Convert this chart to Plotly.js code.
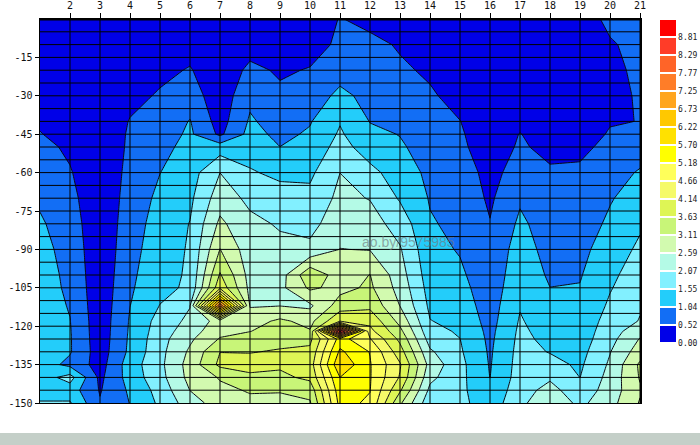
<!DOCTYPE html>
<html>
<head>
<meta charset="utf-8">
<script src="https://cdn.plot.ly/plotly-3.0.1.min.js"></script>
<style>html,body{margin:0;padding:0;background:#fff}#chart{width:700px;height:445px}</style>
</head>
<body>
<div id="chart"></div>
<script>
const depths = [0,-10,-20,-30,-40,-45,-50,-60,-70,-80,-90,-100,-105,-112,-118,-122,-125,-130,-135,-140,-145,-150];
const columns = [1,2,3,4,5,6,7,8,9,10,11,12,13,14,15,16,17,18,19,20,21];
const col01 = [.05,.1,.15,.25,.45,.54,.68,.82,.96,1.1,1.2,1.25,1.25,1.3,1.3,1.3,1.3,1.3,1.3,1.3,1.3,1.6];
const col02 = [.05,.08,.1,.15,.25,.33,.42,.56,.68,.78,.85,.92,.95,1.0,1.05,1.07,1.08,1.08,.9,1.75,1.3,1.6];
const col03 = [.03,.04,.05,.05,.05,.055,.06,.08,.1,.12,.14,.15,.16,.18,.2,.21,.22,.25,.3,.4,.48,.56];
const col04 = [.05,.08,.15,.35,.55,.6,.62,.68,.74,.8,.85,.93,.97,1.03,1.08,1.1,1.12,1.15,1.3,1.25,1.12,1.05];
const col05 = [.1,.2,.38,.58,.72,.8,.88,1.03,1.15,1.25,1.33,1.38,1.4,1.57,1.75,1.82,1.88,1.92,1.95,1.9,1.75,1.65];
const col06 = [.12,.3,.56,.78,1.06,1.12,1.2,1.32,1.45,1.57,1.6,1.62,1.65,2.05,2.2,2.35,2.5,2.68,2.8,2.75,2.6,2.35];
const col07 = [.05,.08,.12,.2,.3,.42,1.3,2.07,2.35,2.7,3.12,3.68,4.0,7.7,2.8,2.95,3.15,3.62,3.75,3.15,3.0,2.85];
const col08 = [.05,.28,.65,.92,1.1,1.2,1.35,1.6,1.95,2.2,2.3,2.4,2.45,2.55,2.9,3.1,3.3,3.6,3.85,3.5,3.15,3.0];
const col09 = [.05,.15,.45,.62,.82,.92,1.04,1.45,1.75,2.02,2.2,2.35,2.45,2.58,3.2,3.3,3.45,3.68,3.72,3.5,3.15,2.95];
const col10 = [.1,.3,.55,.78,1.0,1.1,1.2,1.45,1.7,1.9,2.2,3.5,3.2,2.5,2.95,3.15,3.5,3.75,3.9,3.75,3.3,3.05];
const col11 = [.55,.62,.85,1.15,1.52,1.62,1.75,2.07,2.2,2.4,2.6,2.85,2.95,3.35,4.12,9.0,5.4,5.8,6.15,5.7,5.5,5.35];
const col12 = [.32,.7,.78,.9,1.02,1.15,1.3,1.7,2.05,2.3,2.57,3.12,3.2,3.5,4.0,4.3,4.7,5.16,5.22,5.22,5.2,5.1];
const col13 = [.22,.45,.62,.78,.95,1.02,1.1,1.3,1.5,1.85,2.12,2.3,2.4,2.58,2.95,3.25,3.5,3.85,4.2,4.1,3.7,3.2];
const col14 = [.1,.2,.42,.6,.72,.77,.82,.92,1.0,1.08,1.18,1.28,1.35,1.45,1.57,1.7,1.85,2.15,2.4,2.2,1.95,1.7];
const col15 = [.05,.1,.15,.3,.53,.6,.65,.78,.85,.92,1.0,1.12,1.2,1.3,1.42,1.5,1.56,1.62,1.7,1.7,1.68,1.7];
const col16 = [.03,.04,.05,.06,.08,.1,.17,.35,.44,.54,.68,.72,.74,.8,.85,.9,.93,.97,1.0,1.03,1.15,1.25];
const col17 = [.03,.04,.05,.1,.35,.54,.6,.75,.97,1.13,1.25,1.35,1.42,1.52,1.6,1.65,1.68,1.72,1.75,1.78,1.85,1.95];
const col18 = [.03,.04,.05,.07,.12,.2,.35,.6,.72,.8,.87,.97,1.04,1.15,1.28,1.36,1.42,1.53,1.72,2.0,2.25,2.45];
const col19 = [.03,.04,.05,.07,.12,.2,.38,.62,.72,.8,.9,1.0,1.06,1.15,1.22,1.27,1.3,1.38,1.47,1.55,1.75,1.95];
const col20 = [.75,.42,.3,.35,.47,.58,.68,.85,1.0,1.12,1.28,1.45,1.52,1.63,1.75,1.83,1.9,2.05,2.15,2.25,2.3,2.4];
const col21 = [.85,.8,.7,.58,.53,.68,.82,1.08,1.25,1.48,1.65,1.8,1.88,2.02,2.1,2.4,2.62,2.85,3.2,3.15,3.05,3.15];
const allCols = [col01,col02,col03,col04,col05,col06,col07,col08,col09,col10,col11,col12,col13,col14,col15,col16,col17,col18,col19,col20,col21];
const z = depths.map((_, r) => allCols.map(c => c[r]));

const levelLabels = ['0.00','0.52','1.04','1.55','2.07','2.59','3.11','3.63','4.14','4.66','5.18','5.70','6.22','6.73','7.25','7.77','8.29','8.81'];
const levelStep = 0.5182;
const levelValues = levelLabels.map((_, i) => i * levelStep);
const bandColors = ['rgb(0,0,232)','rgb(18,110,245)','rgb(35,205,250)','rgb(130,240,255)','rgb(180,250,230)','rgb(210,250,175)','rgb(200,245,120)','rgb(222,245,85)','rgb(245,250,105)','rgb(255,255,90)','rgb(255,255,0)','rgb(255,225,0)','rgb(255,200,0)','rgb(255,165,30)','rgb(255,125,40)','rgb(255,100,40)','rgb(255,60,40)','rgb(255,0,0)'];
const toScale = list => list.map((c, i) => [i / (list.length - 1), c]);

const xTickVals = columns.slice(1);
const yTickVals = [-15,-30,-45,-60,-75,-90,-105,-120,-135,-150];
const yGridVals = [-5,-10,-15,-20,-25,-30,-35,-40,-45,-50,-55,-60,-65,-70,-75,-80,-85,-90,-95,-100,-105,-110,-115,-120,-125,-130,-135,-140,-145];

const base = {type: 'contour', x: columns, y: depths, z: z, autocontour: false, hoverinfo: 'skip'};
// lower trace only supplies the colour key: white half-bands above and below, white separators
const scaleTrace = Object.assign({}, base, {
  colorscale: toScale(['#fff'].concat(bandColors, ['#fff'])),
  contours: {start: 0, end: 18 * levelStep, size: levelStep, coloring: 'fill'},
  line: {color: '#fff', width: 2, smoothing: 0},
  showscale: true,
  colorbar: {
    x: 620/600, xanchor: 'left', xref: 'paper', y: 1 + 9/384, yanchor: 'top', yref: 'paper',
    lenmode: 'pixels', len: 342, thicknessmode: 'pixels', thickness: 16,
    xpad: 0, ypad: 0, outlinewidth: 0, borderwidth: 0, ticks: '',
    tickmode: 'array', tickvals: levelValues, ticktext: levelLabels,
    tickfont: {family: 'DejaVu Sans Mono', size: 8, color: '#222'}
  }
});
const mainTrace = Object.assign({}, base, {
  colorscale: toScale(bandColors),
  contours: {start: levelStep, end: 17 * levelStep, size: levelStep, coloring: 'fill'},
  line: {color: '#0a0a14', width: 1, smoothing: 0},
  showscale: false
});

const gridLine = {color: '#000', width: 1};
const shapes = [];
xTickVals.forEach(v => shapes.push({type: 'line', xref: 'x', yref: 'y', x0: v, x1: v, y0: -150, y1: 0, line: gridLine, layer: 'above'}));
yGridVals.forEach(v => shapes.push({type: 'line', xref: 'x', yref: 'y', x0: 1, x1: 21, y0: v, y1: v, line: gridLine, layer: 'above'}));
shapes.push({type: 'line', xref: 'x', yref: 'y', x0: 1, x1: 21, y0: 0, y1: 0, line: {color: '#000', width: 3}, layer: 'above'});
shapes.push({type: 'rect', xref: 'paper', yref: 'paper', x0: -40/600, x1: 660/600, y0: -42/384, y1: -30/384, fillcolor: '#c4cfc8', line: {width: 0}, layer: 'below'});

const tickFont = {family: 'DejaVu Sans Mono', size: 10, color: '#111'};
const layout = {
  width: 700, height: 445, autosize: false, showlegend: false,
  paper_bgcolor: '#fff', plot_bgcolor: '#fff',
  margin: {l: 40, r: 60, t: 19, b: 42, pad: 0, autoexpand: false},
  xaxis: {side: 'top', range: [1, 21], tickmode: 'array', tickvals: xTickVals, ticktext: xTickVals.map(String),
    ticks: 'outside', ticklen: 5, tickwidth: 1, tickcolor: '#000', tickangle: 0, tickfont: tickFont, showgrid: false, zeroline: false,
    showline: true, linecolor: '#000', linewidth: 1, mirror: true},
  yaxis: {range: [-150, 0], tickmode: 'array', tickvals: yTickVals, ticktext: yTickVals.map(String),
    ticks: 'outside', ticklen: 4, tickwidth: 1, tickcolor: '#000', tickfont: tickFont, showgrid: false, zeroline: false,
    showline: true, linecolor: '#000', linewidth: 1.5, mirror: true},
  shapes: shapes,
  annotations: [{text: 'ao.by/9575985', xref: 'paper', yref: 'paper', x: 320/600, y: (403-242)/384, xanchor: 'left', yanchor: 'middle', showarrow: false,
    font: {family: 'Liberation Sans', size: 14, color: 'rgba(110,120,125,0.65)'}}]
};
Plotly.newPlot('chart', [scaleTrace, mainTrace], layout, {displayModeBar: false, staticPlot: true});
</script>
</body>
</html>
